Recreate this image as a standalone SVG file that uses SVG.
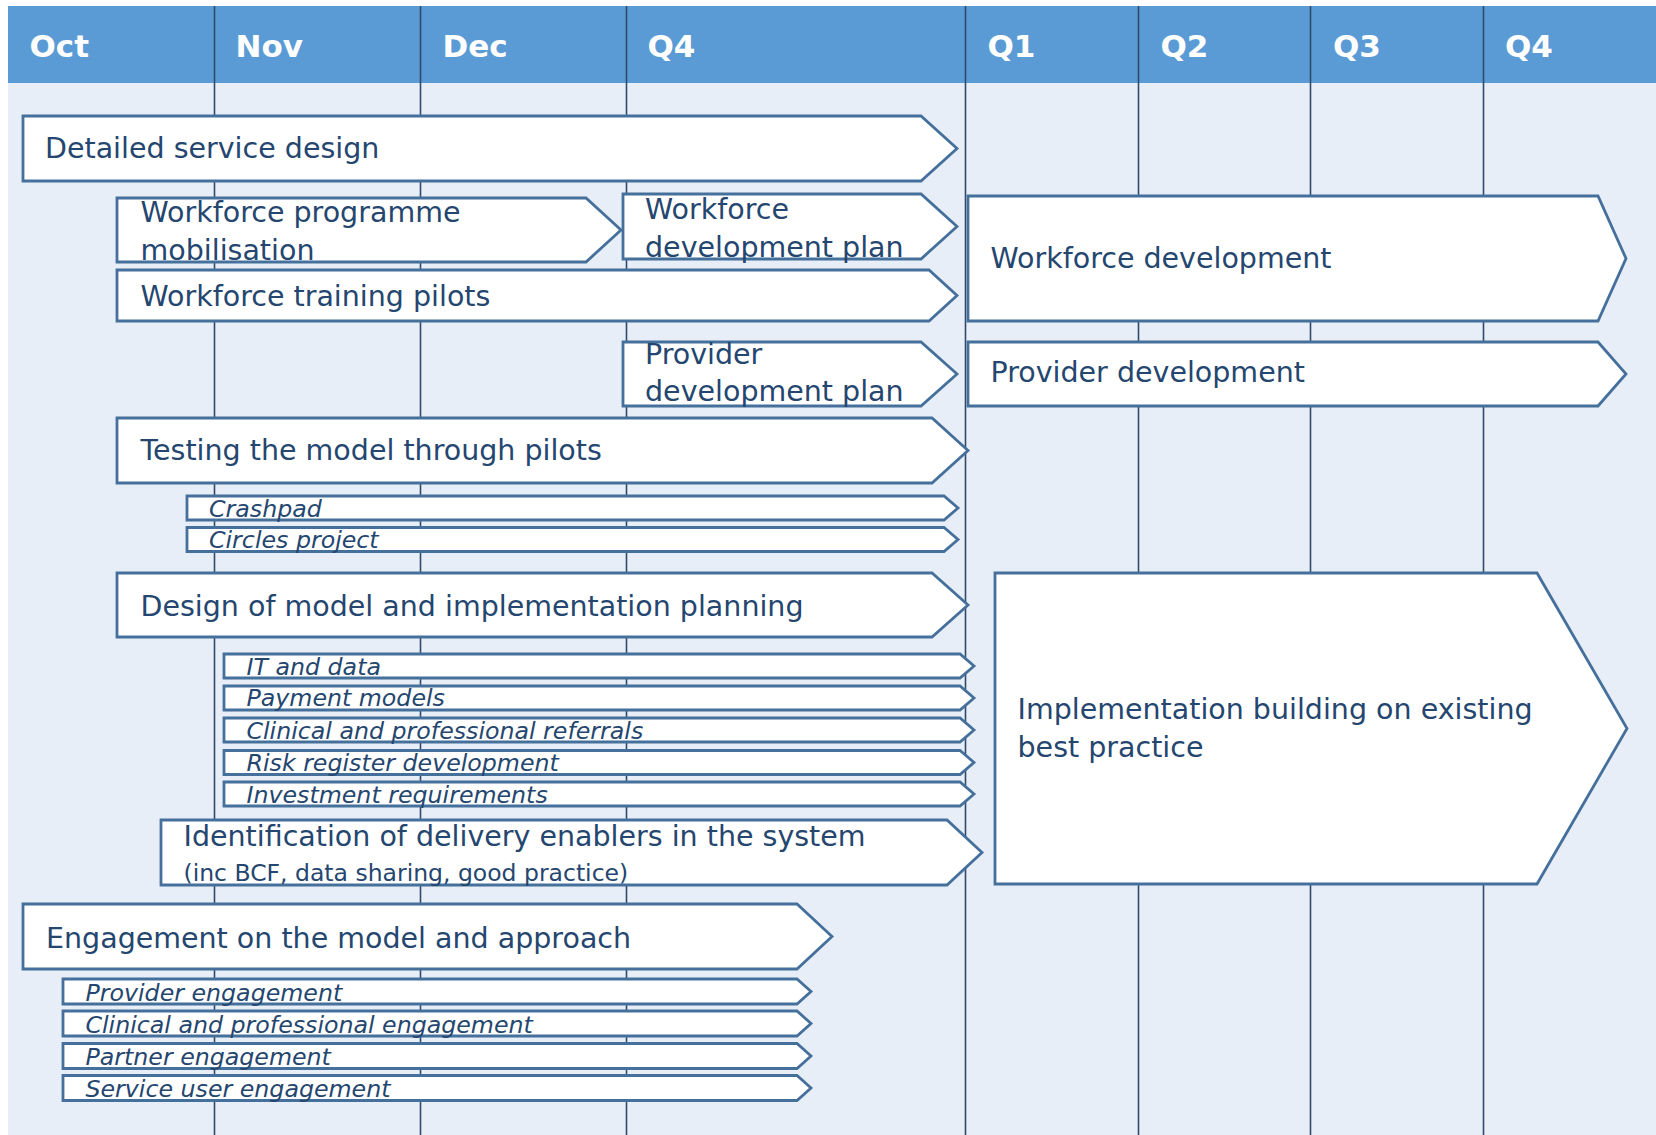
<svg xmlns="http://www.w3.org/2000/svg" width="1656" height="1135" viewBox="0 0 1656 1135">
<style>
.bg{fill:#E8EEF7}
.hdr{fill:#5B9BD5}
.vl{stroke:#2F4A6B;stroke-width:1.6}
.box{fill:#FFFFFF;stroke:#45709C;stroke-width:2.8;stroke-linejoin:miter}
.ht{font-family:"DejaVu Sans",sans-serif;font-weight:bold;font-size:31px;fill:#FFFFFF}
.t{font-family:"DejaVu Sans",sans-serif;font-size:28.5px;fill:#24466F}
.it{font-family:"DejaVu Sans",sans-serif;font-style:italic;font-size:23.7px;fill:#24466F}
.st{font-family:"DejaVu Sans",sans-serif;font-size:23.5px;fill:#24466F}
</style>
<rect x="0" y="0" width="1656" height="1135" fill="#FFFFFF"/>
<rect class="bg" x="8" y="83" width="1648" height="1052"/>
<rect class="hdr" x="8" y="6" width="1648" height="77"/>
<g id="gridlines">
<line class="vl" x1="214.5" y1="6" x2="214.5" y2="1135"/>
<line class="vl" x1="420.5" y1="6" x2="420.5" y2="1135"/>
<line class="vl" x1="626.5" y1="6" x2="626.5" y2="1135"/>
<line class="vl" x1="965.5" y1="6" x2="965.5" y2="1135"/>
<line class="vl" x1="1138.5" y1="6" x2="1138.5" y2="1135"/>
<line class="vl" x1="1310.5" y1="6" x2="1310.5" y2="1135"/>
<line class="vl" x1="1483.5" y1="6" x2="1483.5" y2="1135"/>
</g>
<g id="header">
<text class="ht" x="29.5" y="57">Oct</text>
<text class="ht" x="235.5" y="57">Nov</text>
<text class="ht" x="442.5" y="57">Dec</text>
<text class="ht" x="647.5" y="57">Q4</text>
<text class="ht" x="987.5" y="57">Q1</text>
<text class="ht" x="1160.5" y="57">Q2</text>
<text class="ht" x="1333" y="57">Q3</text>
<text class="ht" x="1505" y="57">Q4</text>
</g>
<g id="connectors"></g>
<g id="n-detailed"><polygon class="box" points="23,116 921,116 957,148.5 921,181 23,181"/><text class="t" x="45" y="158">Detailed service design</text></g>
<g id="n-wf-mob"><polygon class="box" points="117,198 586,198 621,230 586,262 117,262"/><text class="t" x="140.5" y="222">Workforce programme</text><text class="t" x="140.5" y="259.5">mobilisation</text></g>
<g id="n-wf-plan"><polygon class="box" points="623,194 921,194 957,226.5 921,259 623,259"/><text class="t" x="645" y="218.5">Workforce</text><text class="t" x="645" y="256.5">development plan</text></g>
<g id="n-wf-train"><polygon class="box" points="117,270 929,270 957,295.5 929,321 117,321"/><text class="t" x="140.5" y="306">Workforce training pilots</text></g>
<g id="n-wf-dev"><polygon class="box" points="968,196 1598,196 1626,258.5 1598,321 968,321"/><text class="t" x="990.5" y="268">Workforce development</text></g>
<g id="n-prov-plan"><polygon class="box" points="623,342 921,342 957,374 921,406 623,406"/><text class="t" x="645" y="364">Provider</text><text class="t" x="645" y="401">development plan</text></g>
<g id="n-prov-dev"><polygon class="box" points="968,342 1598,342 1626,374 1598,406 968,406"/><text class="t" x="990.5" y="382">Provider development</text></g>
<g id="n-testing"><polygon class="box" points="117,418 932,418 968,450.5 932,483 117,483"/><text class="t" x="140.5" y="460">Testing the model through pilots</text></g>
<g id="n-crashpad"><polygon class="box" points="187,496 944,496 958,508 944,520 187,520"/><text class="it" x="209" y="516.5">Crashpad</text></g>
<g id="n-circles"><polygon class="box" points="187,527.5 944,527.5 958,539.5 944,551.5 187,551.5"/><text class="it" x="209" y="548">Circles project</text></g>
<g id="n-design"><polygon class="box" points="117,573 932,573 968,605 932,637 117,637"/><text class="t" x="140.5" y="616">Design of model and implementation planning</text></g>
<g id="n-it"><polygon class="box" points="224,654 960,654 974,666 960,678 224,678"/><text class="it" x="246.5" y="674.5">IT and data</text></g>
<g id="n-payment"><polygon class="box" points="224,686 960,686 974,698 960,710 224,710"/><text class="it" x="246.5" y="706">Payment models</text></g>
<g id="n-clinical-ref"><polygon class="box" points="224,718 960,718 974,730 960,742 224,742"/><text class="it" x="246.5" y="738.5">Clinical and professional referrals</text></g>
<g id="n-risk"><polygon class="box" points="224,750.5 960,750.5 974,762.5 960,774.5 224,774.5"/><text class="it" x="246.5" y="771">Risk register development</text></g>
<g id="n-invest"><polygon class="box" points="224,782 960,782 974,794 960,806 224,806"/><text class="it" x="246.5" y="802.5">Investment requirements</text></g>
<g id="n-identification"><polygon class="box" points="161,820 947,820 982,852.5 947,885 161,885"/><text class="t" x="183.5" y="846">Identification of delivery enablers in the system</text><text class="st" x="183.5" y="880.5">(inc BCF, data sharing, good practice)</text></g>
<g id="n-implementation"><polygon class="box" points="995,573 1537,573 1627,728.5 1537,884 995,884"/><text class="t" x="1017.5" y="719">Implementation building on existing</text><text class="t" x="1017.5" y="757">best practice</text></g>
<g id="n-engagement"><polygon class="box" points="23,904 797,904 832,936.5 797,969 23,969"/><text class="t" x="46" y="947.5">Engagement on the model and approach</text></g>
<g id="n-prov-eng"><polygon class="box" points="63,979 797,979 811,991.5 797,1004 63,1004"/><text class="it" x="85.5" y="1000.5">Provider engagement</text></g>
<g id="n-clin-eng"><polygon class="box" points="63,1011 797,1011 811,1023.5 797,1036 63,1036"/><text class="it" x="85.5" y="1032.5">Clinical and professional engagement</text></g>
<g id="n-partner-eng"><polygon class="box" points="63,1043.5 797,1043.5 811,1056 797,1068.5 63,1068.5"/><text class="it" x="85.5" y="1065">Partner engagement</text></g>
<g id="n-su-eng"><polygon class="box" points="63,1075.5 797,1075.5 811,1088 797,1100.5 63,1100.5"/><text class="it" x="85.5" y="1097">Service user engagement</text></g>
</svg>
